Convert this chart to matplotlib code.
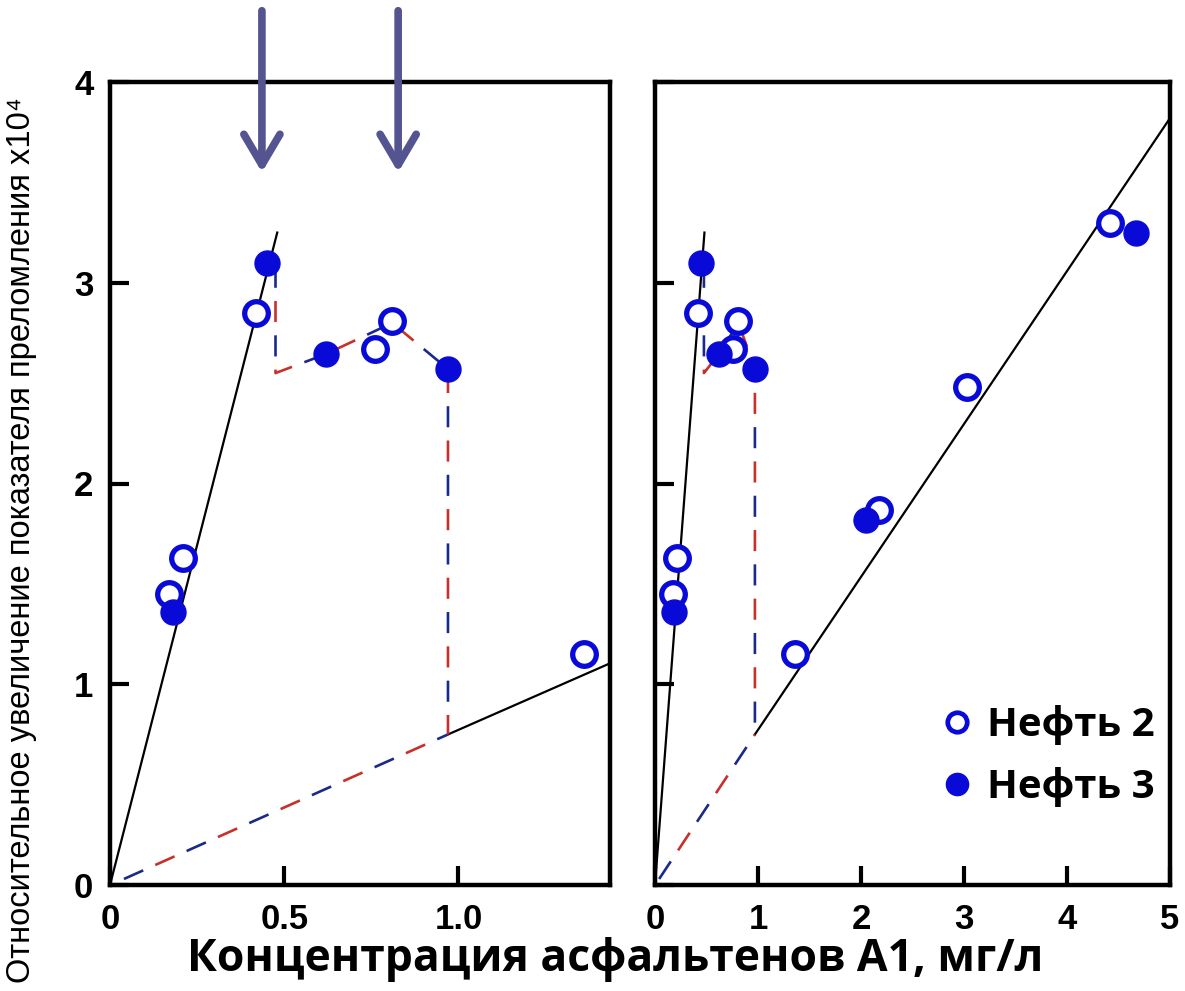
import matplotlib
matplotlib.use("Agg")
import matplotlib.pyplot as plt
from matplotlib.lines import Line2D

# ---------------- data ----------------
oil2_x = [0.17, 0.21, 0.42, 0.76, 0.81, 1.36, 2.17, 3.03, 4.42]
oil2_y = [1.45, 1.63, 2.85, 2.67, 2.81, 1.15, 1.87, 2.48, 3.30]
oil3_x = [0.18, 0.45, 0.62, 0.97, 2.05, 4.67]
oil3_y = [1.36, 3.10, 2.645, 2.57, 1.82, 3.25]

steep_x = [0.0, 0.48]
steep_y = [0.0, 3.25]
shallow_x = [0.97, 5.0]
shallow_y = [0.75, 3.82]
dash_low_x = [0.04, 0.97]
dash_low_y = [0.03, 0.75]
dash_up_x = [0.475, 0.475, 0.62, 0.81, 0.97, 0.97]
dash_up_y = [3.08, 2.55, 2.645, 2.80, 2.57, 0.75]

arrow_x = [0.436, 0.827]
arrow_y_top = 4.355
arrow_y_tip = 3.55

left_xticks = [0, 0.5, 1.0]
left_xticklabels = ["0", "0.5", "1.0"]
right_xticks = [0, 1, 2, 3, 4, 5]
right_xticklabels = ["0", "1", "2", "3", "4", "5"]
yticks = [0, 1, 2, 3, 4]
yticklabels = ["0", "1", "2", "3", "4"]

xlabel = "Концентрация асфальтенов А1, мг/л"
ylabel = "Относительное увеличение показателя преломления x10⁴"
legend_labels = ["Нефть 2", "Нефть 3"]

# ---------------- style ----------------
W, H = 1185, 991
BLUE = "#0a0ad8"
NAVY = "#1a2a8a"
RED = "#c8302a"
ARROW = "#545490"
tick_font = dict(family=["Liberation Sans Narrow", "Liberation Sans", "DejaVu Sans"],
                 weight="bold", size=25)
big_font = ["Open Sans", "DejaVu Sans"]

fig = plt.figure(figsize=(W / 100, H / 100), dpi=100)
ax1 = fig.add_axes([110 / W, 1 - 885 / H, 500 / W, 803 / H])
ax2 = fig.add_axes([655 / W, 1 - 885 / H, 515 / W, 803 / H])


def dashed_rb(ax, x, y):
    d, g = 8, 5
    ax.plot(x, y, color=NAVY, lw=1.9, linestyle=(0, (d, g + d + g)), zorder=2)
    ax.plot(x, y, color=RED, lw=1.9, linestyle=(d + g, (d, g + d + g)), zorder=2)


for ax in (ax1, ax2):
    ax.plot(steep_x, steep_y, color="black", lw=1.6, zorder=2)
    ax.plot(shallow_x, shallow_y, color="black", lw=1.6, zorder=2)
    dashed_rb(ax, dash_low_x, dash_low_y)
    dashed_rb(ax, dash_up_x, dash_up_y)
    ax.plot(oil2_x, oil2_y, linestyle="none", marker="o", markersize=17,
            markerfacecolor="white", markeredgecolor=BLUE, markeredgewidth=3.8, zorder=3)
    ax.plot(oil3_x, oil3_y, linestyle="none", marker="o", markersize=18,
            markerfacecolor=BLUE, markeredgecolor=BLUE, zorder=3)
    ax.set_ylim(0, 4)
    for s in ax.spines.values():
        s.set_linewidth(3.2)
    ax.tick_params(direction="in", length=14, width=3)
    ax.tick_params(axis="x", pad=13)
    ax.tick_params(axis="y", pad=12)

ax1.set_xlim(0, 1.435)
ax2.set_xlim(0, 5)

ax1.set_xticks(left_xticks)
ax1.set_xticklabels(left_xticklabels, fontdict=tick_font)
ax1.set_yticks(yticks)
ax1.set_yticklabels(yticklabels, fontdict=tick_font)
ax2.set_xticks(right_xticks)
ax2.set_xticklabels(right_xticklabels, fontdict=tick_font)
ax2.set_yticks(yticks)
ax2.set_yticklabels([])

# arrows above left panel
for xa in arrow_x:
    ax1.annotate("", xy=(xa, arrow_y_tip), xytext=(xa, arrow_y_top),
                 xycoords="data", textcoords="data", annotation_clip=False,
                 arrowprops=dict(arrowstyle="->, head_length=1.1, head_width=0.65",
                                 mutation_scale=20, lw=5.5, color=ARROW,
                                 capstyle="round", joinstyle="round",
                                 shrinkA=0, shrinkB=0))

# legend
handles = [Line2D([], [], linestyle="none", marker="o", markersize=14,
                  markerfacecolor="white", markeredgecolor=BLUE, markeredgewidth=3.4),
           Line2D([], [], linestyle="none", marker="o", markersize=16,
                  markerfacecolor=BLUE, markeredgecolor=BLUE)]
ax2.legend(handles, legend_labels, loc="lower right", bbox_to_anchor=(1.04, 0.052),
           frameon=False, handlelength=0.6, handletextpad=0.45, labelspacing=0.55,
           prop=dict(family=big_font, weight="bold", size=29))

fig.text(615 / W, 1 - 960 / H, xlabel, ha="center", va="center",
         family=big_font, weight="bold", size=32)
fig.text(22 / W, 1 - 540 / H, ylabel, ha="center", va="center", rotation=90,
         family=["Liberation Sans", "DejaVu Sans"], size=23.5)

fig.savefig("out.png", dpi=100)
